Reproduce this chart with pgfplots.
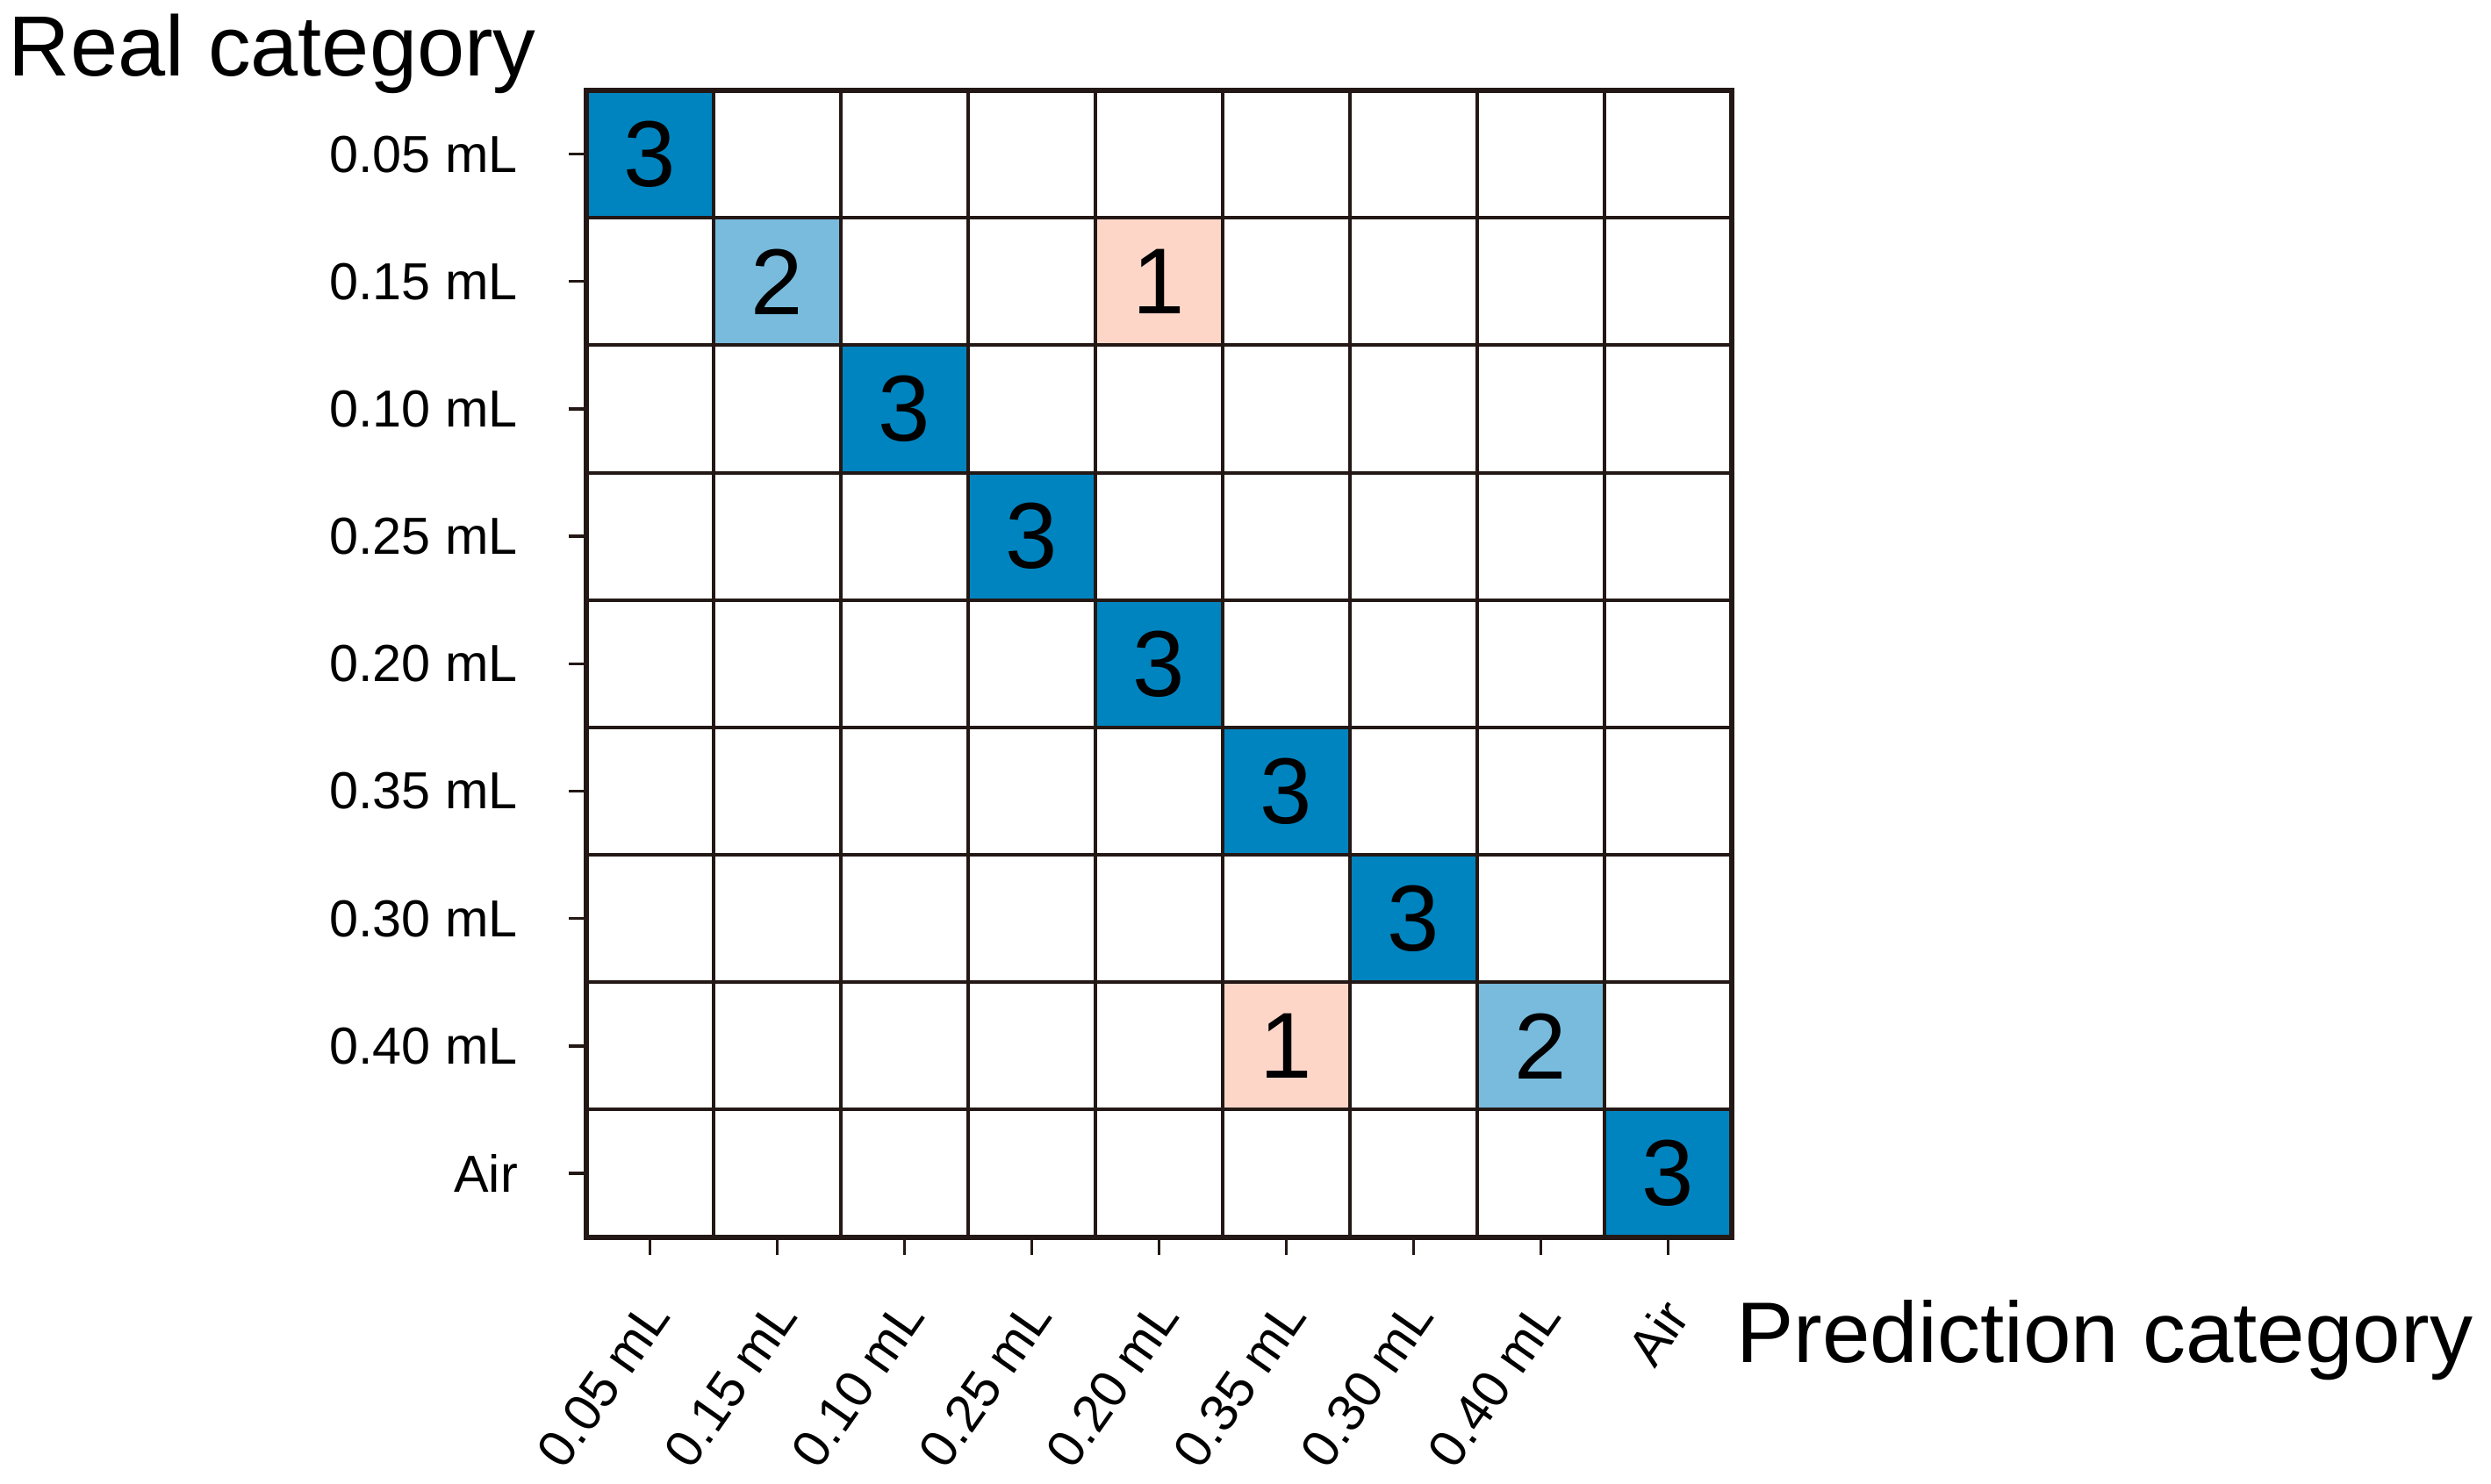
\documentclass[border=0pt]{standalone}
\usepackage{fontspec}
\setmainfont{Liberation Sans}
\usepackage{pgfplots}
\pgfplotsset{compat=1.18}

\definecolor{gridline}{RGB}{35,24,21}
\definecolor{darkblue}{RGB}{0,132,191}
\definecolor{lightblue}{RGB}{120,187,221}
\definecolor{pinkish}{RGB}{253,214,200}

\begin{document}
\begin{tikzpicture}
\begin{axis}[
    name=ax,
    scale only axis,
    width=195.75pt, height=196pt,
    xmin=-0.5, xmax=8.5, ymin=-0.5, ymax=8.5,
    y dir=reverse,
    axis on top,
    axis line style={gridline, line width=0.9pt},
    colormap={cm}{rgb255=(255,255,255) rgb255=(253,214,200) rgb255=(120,187,221) rgb255=(0,132,191)},
    colormap access=direct,
    xtick={0,...,8}, ytick={0,...,8},
    xticklabels={0.05 mL, 0.15 mL, 0.10 mL, 0.25 mL, 0.20 mL, 0.35 mL, 0.30 mL, 0.40 mL, Air},
    yticklabels={0.05 mL, 0.15 mL, 0.10 mL, 0.25 mL, 0.20 mL, 0.35 mL, 0.30 mL, 0.40 mL, Air},
    xtick pos=bottom, ytick pos=left,
    tick align=outside,
    major tick length=3pt,
    tick style={gridline, line width=0.5pt},
    ticklabel style={font=\fontsize{8.9}{9}\selectfont},
    yticklabel style={xshift=-5.2pt},
    xticklabel style={xshift=3.3pt, yshift=-6pt, rotate=55, anchor=east},
]
\addplot[matrix plot*, mesh/cols=9, point meta=explicit, draw=gridline, line width=0.6pt]
  table[row sep=\\, meta=c] {
  x y c\\
  0 0 3\\ 1 0 0\\ 2 0 0\\ 3 0 0\\ 4 0 0\\ 5 0 0\\ 6 0 0\\ 7 0 0\\ 8 0 0\\
  0 1 0\\ 1 1 2\\ 2 1 0\\ 3 1 0\\ 4 1 1\\ 5 1 0\\ 6 1 0\\ 7 1 0\\ 8 1 0\\
  0 2 0\\ 1 2 0\\ 2 2 3\\ 3 2 0\\ 4 2 0\\ 5 2 0\\ 6 2 0\\ 7 2 0\\ 8 2 0\\
  0 3 0\\ 1 3 0\\ 2 3 0\\ 3 3 3\\ 4 3 0\\ 5 3 0\\ 6 3 0\\ 7 3 0\\ 8 3 0\\
  0 4 0\\ 1 4 0\\ 2 4 0\\ 3 4 0\\ 4 4 3\\ 5 4 0\\ 6 4 0\\ 7 4 0\\ 8 4 0\\
  0 5 0\\ 1 5 0\\ 2 5 0\\ 3 5 0\\ 4 5 0\\ 5 5 3\\ 6 5 0\\ 7 5 0\\ 8 5 0\\
  0 6 0\\ 1 6 0\\ 2 6 0\\ 3 6 0\\ 4 6 0\\ 5 6 0\\ 6 6 3\\ 7 6 0\\ 8 6 0\\
  0 7 0\\ 1 7 0\\ 2 7 0\\ 3 7 0\\ 4 7 0\\ 5 7 1\\ 6 7 0\\ 7 7 2\\ 8 7 0\\
  0 8 0\\ 1 8 0\\ 2 8 0\\ 3 8 0\\ 4 8 0\\ 5 8 0\\ 6 8 0\\ 7 8 0\\ 8 8 3\\
  };
% counts written in the non-empty cells
\addplot[draw=none, no markers, point meta=explicit symbolic,
    nodes near coords, nodes near coords align=center,
    every node near coord/.append style={font=\fontsize{16}{16}\selectfont, text=black}]
  coordinates {(0,0)[3] (1,1)[2] (4,1)[1] (2,2)[3] (3,3)[3] (4,4)[3]
               (5,5)[3] (6,6)[3] (5,7)[1] (7,7)[2] (8,8)[3]};
\end{axis}
\node[anchor=base west, inner sep=0pt, font=\fontsize{14.6}{15}\selectfont]
  at ([xshift=-98.9pt, yshift=2.4pt]ax.north west) {Real category};
\node[anchor=base west, inner sep=0pt, font=\fontsize{14.7}{15}\selectfont]
  at ([xshift=0.6pt, yshift=-21.45pt]ax.south east) {Prediction category};
\pgfresetboundingbox
\path ([xshift=-100.2pt, yshift=-42.15pt]ax.south west) rectangle ([xshift=129.75pt, yshift=15.45pt]ax.north east);
\end{tikzpicture}
\end{document}
